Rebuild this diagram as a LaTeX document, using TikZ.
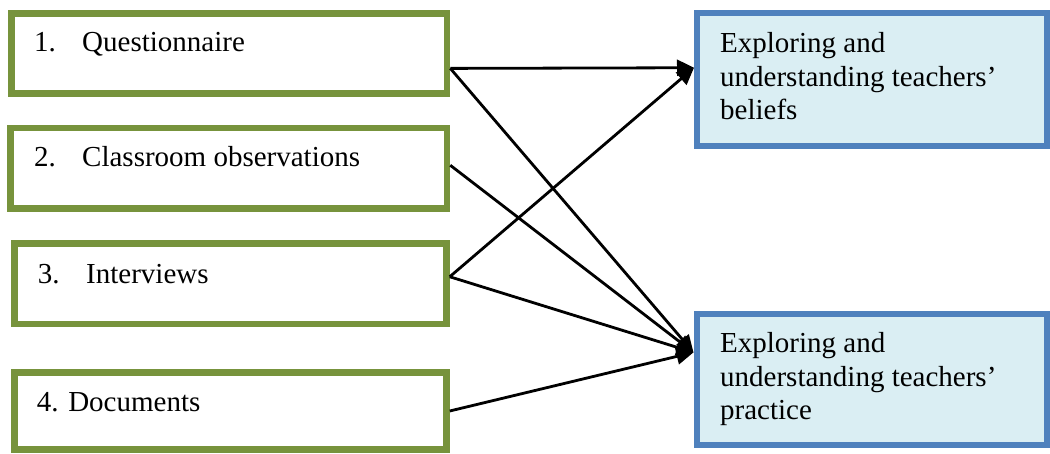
\documentclass[tikz,border=0pt]{standalone}
\usepackage{fontspec}
\setmainfont{Liberation Serif}
\usetikzlibrary{arrows.meta}
\definecolor{olivebox}{HTML}{77933C}
\definecolor{bluebox}{HTML}{4F81BD}
\definecolor{bluefill}{HTML}{DAEEF3}
\begin{document}
\begin{tikzpicture}[x=1pt,y=-1pt,
  gbox/.style={draw=olivebox, line width=6.5pt, fill=white, rectangle, inner sep=0pt},
  bbox/.style={draw=bluebox, line width=6pt, fill=bluefill, rectangle, inner sep=0pt},
  lbl/.style={anchor=base west, inner sep=0pt, font=\fontsize{29}{33.5}\selectfont},
  conn/.style={line width=2.8pt, -{Triangle[length=17pt,width=16pt]}}]
\useasboundingbox (0,0) rectangle (1050,454);
% left boxes
\node[gbox, minimum width=435.7pt, minimum height=80.2pt] (q) at (229.2,53.4) {};
\node[gbox, minimum width=436.4pt, minimum height=80.5pt] (c) at (228.8,168.25) {};
\node[gbox, minimum width=432pt, minimum height=80.5pt] (i) at (230.5,283.75) {};
\node[gbox, minimum width=432pt, minimum height=77pt] (d) at (230.5,411) {};
% right boxes
\node[bbox, minimum width=350pt, minimum height=132.5pt] (b) at (872,79.75) {};
\node[bbox, minimum width=350.5pt, minimum height=131.3pt] (p) at (871.75,379.4) {};
% texts
\node[lbl] (q1) at (34,52) {1.};
\node[lbl] (q2) at (82,52) {Questionnaire};
\node[lbl] (c1) at (34,166.7) {2.};
\node[lbl] (c2) at (82,166.7) {Classroom observations};
\node[lbl] (i1) at (37.7,284) {3.};
\node[lbl] (i2) at (86,284) {Interviews};
\node[lbl] (d1) at (36.7,411.7) {4. Documents};
\node[lbl] (bt) at (720,53) {\begin{tabular}[t]{@{}l@{}}Exploring and\\ understanding teachers’\\ beliefs\end{tabular}};
\node[lbl] (pt) at (720,352.7) {\begin{tabular}[t]{@{}l@{}}Exploring and\\ understanding teachers’\\ practice\end{tabular}};
% connectors
\coordinate (qo) at ([yshift=-15pt]q.east);
\coordinate (co) at ([yshift=3pt]c.east);
\coordinate (io) at ([yshift=7pt]i.east);
\coordinate (do) at ([yshift=0pt]d.east);
\coordinate (bi) at ([yshift=12pt]b.west);
\coordinate (pi) at ([yshift=27pt]p.west);
\draw[conn] (qo) -- (bi);
\draw[conn] (io) -- (bi);
\draw[conn] (qo) -- (pi);
\draw[conn] (co) -- (pi);
\draw[conn] (io) -- (pi);
\draw[conn] (do) -- (pi);
\end{tikzpicture}
\end{document}
